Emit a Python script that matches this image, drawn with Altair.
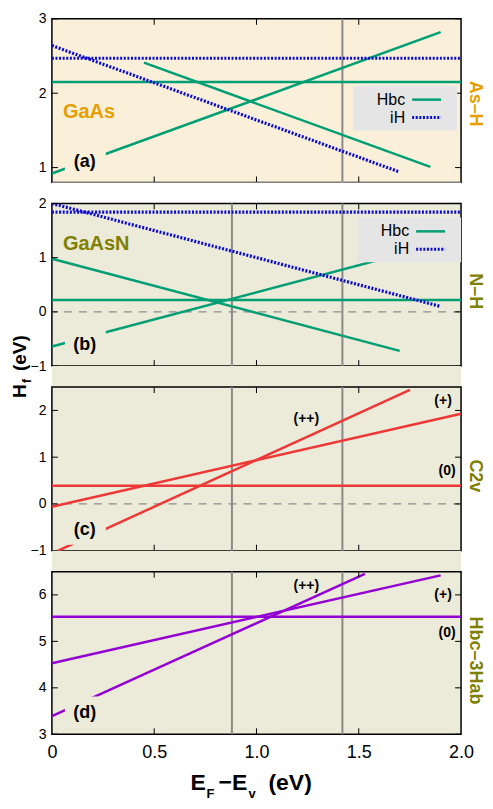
import altair as alt
import pandas as pd

FONT = "Liberation Sans"
W = 410
HEIGHTS = {"a": 164, "b": 163, "c": 164, "d": 163}
GAP = 21

BG_A = "#FAF0DA"
BG_B = "#ECEAD8"
GREEN = "#009E73"
BLUE = "#0A0ACF"
RED = "#EE3838"
PURPLE = "#9400D3"
ORANGE = "#E69F00"
OLIVE = "#808000"
GRAYLINE = "#8A8A8A"

X_DOMAIN = [0, 2]
Y_DOMAINS = {"a": [0.8, 3.0], "b": [-1.0, 2.0], "c": [-1.0, 2.5], "d": [3.0, 6.5]}
Y_TICKS = {"a": [1, 2, 3], "b": [-1, 0, 1, 2], "c": [-1, 0, 1, 2], "d": [3, 4, 5, 6]}
X_TICKS = [0.5, 1.0, 1.5]
X_LABELS = [0, 0.5, 1.0, 1.5, 2.0]
GAP_LINES = {"a": [1.42], "b": [0.88, 1.42], "c": [0.88, 1.42], "d": [0.88, 1.42]}

# Panel (a) GaAs, As-H : consecutive pairs of points are straight segments
a_line = ["Hbc0", "Hbc0", "Hbc+", "Hbc+", "Hbc-", "Hbc-", "iH0", "iH0", "iH-", "iH-"]
a_series = ["Hbc"] * 6 + ["iH"] * 4
a_x = [0.0, 2.0, 0.0, 1.90, 0.45, 1.85, 0.0, 2.0, 0.0, 1.70]
a_y = [2.15, 2.15, 0.92, 2.82, 2.41, 1.01, 2.47, 2.47, 2.64, 0.94]

# Panel (b) GaAsN, N-H
b_line = ["Hbc0", "Hbc0", "Hbc+", "Hbc+", "Hbc-", "Hbc-", "iH0", "iH0", "iH-", "iH-"]
b_series = ["Hbc"] * 6 + ["iH"] * 4
b_x = [0.0, 2.0, 0.0, 2.0, 0.0, 1.70, 0.0, 2.0, 0.0, 1.90]
b_y = [0.22, 0.22, -0.64, 1.36, 0.98, -0.72, 1.84, 1.84, 2.0, 0.10]

# Panel (c) C2v
c_line = ["(0)", "(0)", "(+)", "(+)", "(++)", "(++)"]
c_x = [0.0, 2.0, 0.0, 2.0, 0.0, 1.75]
c_y = [0.39, 0.39, -0.06, 1.93, -1.06, 2.44]

# Panel (d) Hbc-3Hab
d_line = ["(0)", "(0)", "(+)", "(+)", "(++)", "(++)"]
d_x = [0.0, 2.0, 0.0, 1.90, 0.0, 1.53]
d_y = [5.53, 5.53, 4.53, 6.42, 3.39, 6.45]

SIDE_X = W + 14


def X(field, key, bottom=False):
    if bottom:
        axis = alt.Axis(values=X_LABELS, labelExpr="datum.value == 0 ? '0' : format(datum.value, '.1f')",
                        ticks=False, domain=False, grid=False, title=None, labelFontSize=18,
                        labelPadding=9, labelFlush=False, labelColor="black", labelFont=FONT)
    else:
        axis = None
    return alt.X(field, type="quantitative", scale=alt.Scale(domain=X_DOMAIN, nice=False, zero=False), axis=axis)


def Y(field, key):
    axis = alt.Axis(values=Y_TICKS[key], ticks=False, domain=False, grid=False, title=None,
                    labelFontSize=14, labelPadding=6, labelColor="black", labelFont=FONT)
    return alt.Y(field, type="quantitative", scale=alt.Scale(domain=Y_DOMAINS[key], nice=False, zero=False), axis=axis)


def txt(text, x, y, size=14, color="black", bold=True, align="center", baseline="middle", angle=0):
    df = pd.DataFrame({"t": [text]})
    kw = dict(font=FONT, fontSize=size, color=color, align=align, baseline=baseline,
              fontWeight="bold" if bold else "normal")
    if angle:
        kw["angle"] = angle
    return alt.Chart(df).mark_text(**kw).encode(text="t:N", x=alt.value(x), y=alt.value(y))


def panel(key, lines, bg, label, side, side_color, side_y, bottom=False, zero=False):
    h = HEIGHTS[key]
    layers = []
    if zero:
        layers.append(alt.Chart(pd.DataFrame({"y": [0]})).mark_rule(
            color="#8C8C8C", strokeWidth=1.2, strokeDash=[8, 7]).encode(y=Y("y", key)))
    layers.append(alt.Chart(pd.DataFrame({"x": GAP_LINES[key]})).mark_rule(
        color=GRAYLINE, strokeWidth=2).encode(x=X("x", key, bottom)))
    for df, color, dash, width in lines:
        mk = dict(clip=True, color=color, strokeWidth=width)
        if dash:
            mk["strokeDash"] = dash
            mk["strokeCap"] = "butt"
        layers.append(alt.Chart(df).mark_line(**mk).encode(
            x=X("x", key, bottom), y=Y("y", key), detail="line:N"))
    # box behind the panel letter
    layers.append(alt.Chart(pd.DataFrame({"v": [0]})).mark_rect(color=bg).encode(
        x=alt.value(13), x2=alt.value(54), y=alt.value(h - 38), y2=alt.value(h - 6)))
    layers.append(txt(label, 33, h - 21, size=18))
    layers.append(txt(side, SIDE_X, side_y, size=18, color=side_color, angle=90))
    # ticks
    xt = pd.DataFrame({"x": X_TICKS})
    yt = pd.DataFrame({"y": Y_TICKS[key]})
    layers.append(alt.Chart(xt).mark_rule(color="black", strokeWidth=1).encode(
        x=X("x", key, bottom), y=alt.value(0), y2=alt.value(6)))
    layers.append(alt.Chart(xt).mark_rule(color="black", strokeWidth=1).encode(
        x=X("x", key, bottom), y=alt.value(h), y2=alt.value(h - 6)))
    layers.append(alt.Chart(yt).mark_rule(color="black", strokeWidth=1).encode(
        y=Y("y", key), x=alt.value(0), x2=alt.value(6)))
    layers.append(alt.Chart(yt).mark_rule(color="black", strokeWidth=1).encode(
        y=Y("y", key), x=alt.value(W), x2=alt.value(W - 6)))
    return layers


def legend(x0, y0):
    out = []
    out.append(alt.Chart(pd.DataFrame({"v": [0]})).mark_rect(color="#E5E5E5").encode(
        x=alt.value(x0), x2=alt.value(x0 + 104), y=alt.value(y0), y2=alt.value(y0 + 45)))
    out.append(txt("Hbc", x0 + 52, y0 + 14, size=16, bold=False, align="right"))
    out.append(txt("iH", x0 + 52, y0 + 32, size=16, bold=False, align="right"))
    out.append(alt.Chart(pd.DataFrame({"v": [0]})).mark_rule(color=GREEN, strokeWidth=2.5).encode(
        x=alt.value(x0 + 59), x2=alt.value(x0 + 88), y=alt.value(y0 + 14)))
    out.append(alt.Chart(pd.DataFrame({"v": [0]})).mark_rule(
        color=BLUE, strokeWidth=3, strokeDash=[2, 1.6], strokeCap="butt").encode(
        x=alt.value(x0 + 59), x2=alt.value(x0 + 88), y=alt.value(y0 + 32)))
    return out


def seg(line, x, y):
    return pd.DataFrame({"line": line, "x": x, "y": y})


a_df = pd.DataFrame({"line": a_line, "series": a_series, "x": a_x, "y": a_y})
b_df = pd.DataFrame({"line": b_line, "series": b_series, "x": b_x, "y": b_y})

# Panel a
la = panel("a", [(a_df[a_df.series == "Hbc"], GREEN, None, 2.5),
                 (a_df[a_df.series == "iH"], BLUE, [2, 1.6], 3.2)],
           BG_A, "(a)", "As–H", ORANGE, 85)
la.append(txt("GaAs", 11, 93, size=20, color=ORANGE, align="left"))
la += legend(302, 67)
chart_a = alt.layer(*la).properties(width=W, height=HEIGHTS["a"],
                                    view=alt.ViewBackground(fill=BG_A, stroke="black", strokeWidth=1.5))

# Panel b
lb = panel("b", [(b_df[b_df.series == "Hbc"], GREEN, None, 2.5),
                 (b_df[b_df.series == "iH"], BLUE, [2, 1.6], 3.2)],
           BG_B, "(b)", "N–H", OLIVE, 88, zero=True)
lb.append(txt("GaAsN", 11, 41, size=20, color=OLIVE, align="left"))
lb += legend(306, 14)
# y-axis title H_f (eV)
lb.append(txt("H", -26, 195, size=19, align="left", baseline="alphabetic", angle=270))
lb.append(txt("f", -21, 180, size=12, align="left", baseline="alphabetic", angle=270))
lb.append(txt("(eV)", -26, 168, size=19, align="left", baseline="alphabetic", angle=270))
chart_b = alt.layer(*lb).properties(width=W, height=HEIGHTS["b"],
                                    view=alt.ViewBackground(fill=BG_B, stroke="black", strokeWidth=1.5))

# Panel c
lc = panel("c", [(seg(c_line, c_x, c_y), RED, None, 2.5)], BG_B, "(c)", "C2v", OLIVE, 89, zero=True)
lc.append(txt("(++)", 255, 32, size=14))
lc.append(txt("(+)", 392, 14, size=14))
lc.append(txt("(0)", 396, 84, size=14))
chart_c = alt.layer(*lc).properties(width=W, height=HEIGHTS["c"],
                                    view=alt.ViewBackground(fill=BG_B, stroke="black", strokeWidth=1.5))

# Panel d
ld = panel("d", [(seg(d_line, d_x, d_y), PURPLE, None, 2.5)], BG_B, "(d)", "Hbc–3Hab", OLIVE, 89, bottom=True)
ld.append(txt("(++)", 255, 14, size=14))
ld.append(txt("(+)", 392, 23, size=14))
ld.append(txt("(0)", 396, 61, size=14))
# x-axis title E_F - E_v (eV)
ld.append(txt("E", 139, 219, size=23, align="left", baseline="alphabetic"))
ld.append(txt("F", 155, 227, size=13, align="left", baseline="alphabetic"))
ld.append(txt("−E", 167, 219, size=23, align="left", baseline="alphabetic"))
ld.append(txt("v", 197, 227, size=13, align="left", baseline="alphabetic"))
ld.append(txt("(eV)", 217, 219, size=23, align="left", baseline="alphabetic"))
chart_d = alt.layer(*ld).properties(width=W, height=HEIGHTS["d"],
                                    view=alt.ViewBackground(fill=BG_B, stroke="black", strokeWidth=1.5))


def spacer(fill):
    return alt.Chart(pd.DataFrame({"v": [0]})).mark_rect(color=fill).encode(
        x=alt.value(0), x2=alt.value(W), y=alt.value(0), y2=alt.value(GAP)
    ).properties(width=W, height=GAP, view=alt.ViewBackground(stroke="transparent", strokeWidth=0))


chart = alt.vconcat(chart_a, spacer("#FFFFFF"), chart_b, spacer(BG_B), chart_c, spacer(BG_B), chart_d,
                    spacing=0, bounds="flush").properties(
    padding={"left": 2, "top": 2, "right": 0, "bottom": 0}
).configure(font=FONT)

chart.save("out.html", embed_options={"renderer": "svg", "actions": False})
